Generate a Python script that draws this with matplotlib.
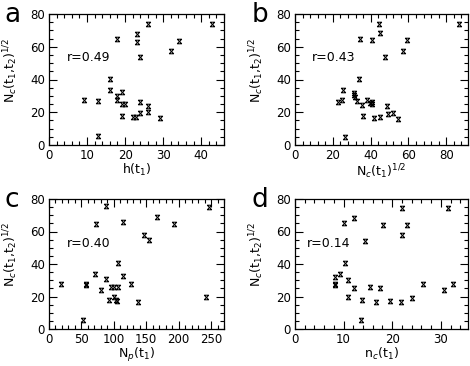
import matplotlib
matplotlib.use('Agg')
import matplotlib.pyplot as plt
from matplotlib.path import Path
from matplotlib.ticker import MultipleLocator

plt.rcParams['font.family'] = ['DejaVu Sans']
plt.rcParams['mathtext.fontset'] = 'dejavusans'

# ---- data ----
a_x = [9.2, 13, 13, 16, 16, 18, 17.8, 18, 19.1, 19.1, 19.1, 20.1, 22, 22.9, 23, 23, 24, 24, 24, 26, 26, 26, 29.3, 32.1, 34.1, 42.9]
a_y = [27.5, 27, 5.7, 40.2, 33.6, 64.6, 30.2, 27.5, 32.2, 17.8, 25, 25, 16.8, 17.2, 68, 63.2, 53.7, 26, 19.3, 73.6, 23.8, 19.9, 16.4, 57.2, 63.4, 73.6]

b_x = [22.6, 24.9, 25.6, 33.9, 31.4, 31.4, 31.7, 32.9, 35.4, 35.8, 38.2, 39.8, 40.8, 40.5, 41.9, 44.8, 48.7, 49.2, 51.7, 54.6, 26.7, 44.3, 45.2, 40.8, 34.5, 59, 57, 47.5, 86.5]
b_y = [26.5, 27.4, 33.7, 40.6, 31.6, 30.3, 29.5, 26.9, 24.4, 17.5, 27.4, 25.7, 25.3, 26.2, 16.4, 17.1, 23.6, 18.9, 19.4, 16, 5.1, 74, 68.5, 64, 65, 64, 57.5, 54, 74]

c_x = [19, 52, 57, 57, 72, 71, 80, 88, 88, 93, 96, 101, 100, 103, 105, 106, 106, 114, 114, 126, 138, 147, 154, 166, 193, 243, 247]
c_y = [28, 5.7, 28, 27, 64.6, 34, 24, 75.5, 30.5, 18, 25.7, 25.7, 20, 18, 17.5, 40.6, 26, 66, 32.6, 27.8, 16.4, 58, 54.7, 69, 64.6, 20, 75]

d_x = [8.3, 8.3, 8.3, 9.2, 10.1, 10.2, 11, 11, 12.1, 12.1, 13.7, 13.5, 14.5, 15.4, 16.6, 17.5, 18.1, 19.5, 21.9, 22.1, 22.1, 23.1, 24.1, 26.4, 30.6, 31.4, 32.6]
d_y = [27, 28, 32.2, 33.7, 65.5, 40.5, 30, 19.8, 68.6, 25, 17.7, 5.6, 54, 26, 16.6, 25.4, 63.8, 17.3, 16.6, 74.4, 57.6, 63.8, 19.3, 27.4, 24, 74.4, 27.4]

panel_letters = ['a', 'b', 'c', 'd']
r_labels = ['r=0.49', 'r=0.43', 'r=0.40', 'r=0.14']
x_labels = [r'h(t$_1$)', r'N$_c$(t$_1$)$^{1/2}$', r'N$_p$(t$_1$)', r'n$_c$(t$_1$)']
y_label = r'N$_c$(t$_1$,t$_2$)$^{1/2}$'

# marker: x with bars top and bottom
mk = Path([(-1, -1), (1, 1), (-1, 1), (1, -1), (-1, 1), (1, 1), (-1, -1), (1, -1)],
          [Path.MOVETO, Path.LINETO, Path.MOVETO, Path.LINETO,
           Path.MOVETO, Path.LINETO, Path.MOVETO, Path.LINETO])

W, H = 470, 366
fig = plt.figure(figsize=(W / 100, H / 100), dpi=100)

def fr(l, r, t, b):
    return [l / W, 1 - b / H, (r - l) / W, (b - t) / H]

rects = [fr(49, 224, 14, 145), fr(295, 468, 14, 145),
         fr(49, 224, 199, 329), fr(295, 468, 199, 329)]
xs = [a_x, b_x, c_x, d_x]
ys = [a_y, b_y, c_y, d_y]
xlims = [(0, 46), (0, 91.5), (0, 270), (0, 35.6)]
xmaj = [10, 20, 50, 10]
xmin = [2, 4, 10, 2]
letter_pos = [(4, 15), (252, 15), (4, 200), (251, 200)]
r_pos = [(0.10, 0.67), (0.10, 0.67), (0.10, 0.66), (0.07, 0.66)]

for i in range(4):
    ax = fig.add_axes(rects[i])
    ax.plot(xs[i], ys[i], linestyle='none', marker=mk, markersize=3.3,
            markeredgewidth=0.75, color='black', markerfacecolor='none')
    ax.set_xlim(*xlims[i])
    ax.set_ylim(0, 80)
    ax.xaxis.set_major_locator(MultipleLocator(xmaj[i]))
    ax.xaxis.set_minor_locator(MultipleLocator(xmin[i]))
    ax.yaxis.set_major_locator(MultipleLocator(20))
    ax.yaxis.set_minor_locator(MultipleLocator(5))
    ax.tick_params(which='both', direction='in', top=True, right=True,
                   labelsize=8.5, width=0.8, pad=3, colors='black')
    ax.tick_params(which='major', length=5.5)
    ax.tick_params(which='minor', length=2.8)
    for s in ax.spines.values():
        s.set_linewidth(0.9)
    ax.set_xlabel(x_labels[i], fontsize=9, labelpad=0)
    ax.set_ylabel(y_label, fontsize=9)
    ax.yaxis.set_label_coords(-0.165, 0.57)
    ax.text(r_pos[i][0], r_pos[i][1], r_labels[i], transform=ax.transAxes,
            fontsize=9, ha='left', va='center')
    lx, ly = letter_pos[i]
    fig.text(lx / W, 1 - ly / H, panel_letters[i], fontsize=19,
             ha='left', va='center')

fig.savefig('out.png', dpi=100)
